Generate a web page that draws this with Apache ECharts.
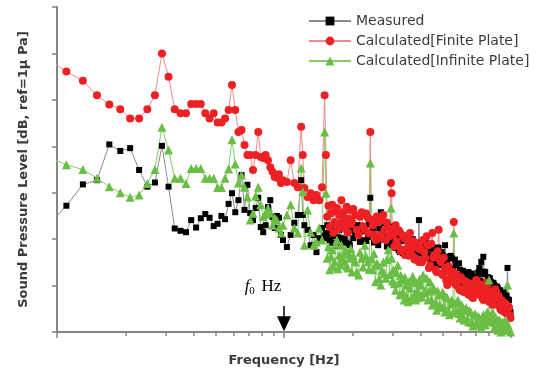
<!DOCTYPE html>
<html><head><meta charset="utf-8">
<script src="https://cdn.jsdelivr.net/npm/echarts@6/dist/echarts.min.js"></script>
<style>html,body{margin:0;padding:0;background:#fff}#c{width:541px;height:376px}</style>
</head><body><div id="c"></div>
<script>
const freq = [9, 11, 13, 15, 17, 19, 21, 23, 25, 27, 29, 31, 33, 35, 37, 39, 41, 43, 45, 47, 49, 51, 53, 55, 57, 59, 61, 63, 65, 67, 69, 71, 73, 75, 77, 79, 81, 83, 85, 87, 89, 91, 93, 95, 97, 99,
  103, 107, 111, 115, 119, 121, 123, 127, 131, 135, 139, 143, 147, 151, 153,
  155, 157, 159, 161, 163, 165, 167, 169, 171, 173,
  175, 177, 179, 181, 183, 185, 187, 189, 191, 193,
  195, 197, 199, 202, 206, 209, 213, 216, 220, 223,
  227, 230, 234, 237, 240, 243, 246, 249, 253, 256,
  260, 263, 267, 270, 274, 277, 281, 284, 288, 292,
  296, 298, 300, 303, 306, 310, 313, 317, 320, 324,
  327, 331, 334, 338, 341, 345, 348, 352, 355, 359,
  362, 366, 369, 373, 376, 380, 383, 387, 390, 393,
  396, 400, 405, 410, 415, 420, 425, 430, 435, 440,
  445, 450, 455, 460, 465, 470, 475, 480, 485, 490,
  495, 500, 506, 512, 518, 524, 530, 536, 542, 548,
  554, 560, 566, 572, 578, 584, 590, 596, 602, 608,
  614, 620, 627, 635, 642, 650, 657, 665, 672, 680,
  687, 695, 702, 710, 717, 725, 732, 740, 747, 755,
  762, 770, 777, 785, 792, 800, 807, 815, 822, 830,
  837, 845, 852, 860, 867, 875, 882, 890, 897, 905,
  912, 920, 927, 935, 942, 950, 957, 965, 972, 980,
  987, 995];

const measured = [22.6, 27.2, 31.8, 32.7, 40.4, 39.0, 39.6, 34.9, 31.3, 32.2, 40.1, 31.3, 22.3, 21.8, 21.5, 24.1, 22.5, 24.5, 25.4, 24.6, 22.8, 23.3, 25.0, 24.3, 27.6, 29.9, 25.8, 28.4, 33.8, 26.3, 31.7, 25.6, 24.1, 26.7, 28.9, 22.6, 21.5, 23.0, 26.9, 28.4, 24.8, 22.4, 25.0, 24.6, 20.9, 19.8,
  18.3, 20.9, 23.5, 25.2, 32.7, 25.2, 23.0, 22.0, 18.7, 20.9, 17.2, 20.2, 22.4, 21.3, 20.2,
  23.0, 21.2, 19.8, 22.6, 19.2, 20.6, 21.5, 23.4, 18.5, 20.4,
  22.0, 19.5, 20.2, 23.6, 22.4, 20.0, 19.2, 22.8, 21.5, 19.0,
  18.7, 21.8, 24.1, 20.2, 20.9, 22.9, 23.0, 19.4, 19.8, 21.7,
  22.4, 19.6, 20.5, 23.2, 28.9, 21.0, 22.0, 19.3, 24.1, 20.6,
  18.7, 22.3, 25.8, 19.9, 21.5, 23.4, 20.2, 18.4, 22.8, 20.0,
  18.7, 19.8, 22.6, 21.5, 18.9, 18.1, 20.8, 20.5, 17.6, 17.2,
  19.6, 19.8, 17.0, 17.7, 20.4, 20.2, 17.4, 16.6, 19.2, 18.7,
  16.8, 17.7, 20.0, 19.4, 17.2, 16.6, 19.0, 18.7, 16.9, 24.1,
  17.4, 17.7, 19.0, 17.7, 16.0, 19.4, 17.0, 16.6, 18.8, 18.1,
  15.4, 15.1, 17.8, 17.7, 14.6, 15.9, 18.2, 18.1, 15.6, 14.4,
  17.2, 16.6, 14.2, 18.7, 16.2, 15.1, 13.0, 13.4, 16.4, 15.9,
  13.6, 12.3, 15.6, 14.4, 12.2, 11.6, 14.8, 13.4, 11.4, 10.8,
  13.2, 12.3, 10.4, 9.5, 12.0, 12.9, 10.6, 10.1, 12.6, 11.6,
  9.6, 9.0, 11.8, 11.2, 12.8, 13.8, 11.0, 15.1, 12.4, 16.2,
  13.0, 12.9, 10.8, 10.1, 11.8, 9.0, 11.6, 10.8, 8.4, 8.6,
  10.6, 10.1, 8.0, 7.3, 9.8, 9.5, 7.6, 6.9, 9.0, 8.6,
  6.4, 6.5, 8.6, 8.0, 6.0, 5.8, 7.8, 13.8, 7.0, 6.9,
  5.0, 4.3];

const finitePlate = [58.9, 56.1, 54.1, 51.0, 49.0, 48.0, 46.0, 46.0, 48.0, 51.0, 60.0, 55.0, 48.0, 47.1, 47.1, 49.1, 49.1, 49.1, 47.1, 46.0, 47.1, 45.1, 45.1, 46.0, 47.8, 53.2, 47.8, 43.1, 43.5, 40.3, 38.1, 38.1, 34.9, 38.1, 43.1, 37.7, 37.5, 38.1, 37.0, 35.5, 34.5, 33.4, 33.2, 34.0, 32.1, 32.7,
  32.3, 37.0, 32.1, 31.2, 44.2, 38.1, 31.0, 29.1, 29.9, 28.4, 29.5, 28.4, 31.2, 51.0, 38.1,
  24.8, 27.2, 22.6, 25.6, 27.4, 21.4, 23.7, 26.0, 26.7, 22.2,
  25.2, 23.0, 28.4, 24.5, 25.8, 22.4, 23.0, 27.0, 21.5, 24.4,
  26.3, 23.2, 23.7, 26.5, 25.2, 22.0, 20.9, 24.8, 25.8, 22.8,
  22.0, 25.5, 24.6, 21.2, 43.1, 24.2, 23.0, 21.0, 19.8, 24.9,
  23.7, 20.2, 20.9, 24.0, 25.2, 21.8, 19.8, 23.6, 22.4, 20.6,
  32.1, 29.9, 21.8, 20.9, 18.4, 23.0, 19.6, 18.7, 21.9, 21.5,
  17.4, 17.7, 20.8, 20.2, 16.6, 17.7, 20.6, 19.4, 16.4, 21.3,
  18.0, 16.6, 19.6, 18.7, 15.6, 15.9, 19.2, 18.1, 15.4, 15.1,
  18.6, 17.7, 15.0, 19.8, 17.2, 15.9, 20.6, 18.7, 13.8, 14.4,
  19.0, 21.3, 16.0, 16.6, 13.4, 12.9, 17.4, 22.0, 15.8, 15.1,
  12.6, 12.3, 16.0, 13.8, 11.2, 10.1, 14.2, 12.9, 11.6, 10.8,
  13.0, 23.7, 11.4, 10.1, 12.4, 11.6, 9.4, 9.0, 11.8, 11.2,
  8.8, 8.6, 11.0, 10.1, 8.4, 8.0, 10.4, 9.5, 7.6, 7.3,
  9.8, 9.0, 11.2, 10.8, 8.2, 8.0, 10.2, 9.5, 7.4, 6.9,
  9.2, 8.6, 10.6, 10.1, 7.8, 6.5, 8.6, 8.0, 6.4, 5.8,
  7.6, 7.3, 9.2, 8.6, 6.6, 5.8, 7.8, 6.9, 5.0, 4.7,
  6.8, 6.5, 4.6, 4.3, 6.2, 5.8, 4.0, 3.7, 5.6, 5.2,
  3.6, 3.0];

const infinitePlate = [37.9, 36.0, 35.0, 33.1, 31.3, 30.0, 29.0, 29.5, 32.0, 35.0, 44.1, 39.2, 33.1, 33.1, 32.0, 35.2, 35.2, 35.2, 33.1, 33.1, 33.1, 31.1, 31.1, 33.1, 35.1, 41.4, 36.2, 32.1, 33.8, 31.2, 29.1, 24.1, 25.6, 29.3, 31.2, 27.4, 24.8, 25.4, 26.7, 25.6, 23.0, 24.6, 24.1, 22.4, 21.3, 23.0,
  25.2, 27.4, 22.4, 21.3, 35.3, 30.2, 18.7, 26.3, 21.5, 18.7, 19.4, 22.4, 19.8, 43.1, 29.9,
  15.9, 18.4, 13.4, 16.2, 17.7, 14.0, 15.1, 18.9, 19.8, 13.6,
  16.6, 14.5, 18.7, 16.0, 15.1, 17.2, 17.7, 14.2, 13.8, 16.8,
  15.9, 18.0, 12.9, 16.4, 15.1, 13.0, 12.3, 17.2, 15.9, 14.0,
  18.7, 16.3, 15.1, 13.5, 36.4, 15.8, 13.4, 16.9, 10.8, 14.8,
  14.4, 11.5, 10.1, 13.2, 15.1, 12.6, 11.6, 15.6, 17.7, 12.4,
  26.7, 15.9, 11.0, 13.4, 10.4, 9.0, 12.8, 14.4, 10.6, 8.0,
  12.2, 11.2, 8.6, 6.9, 11.8, 10.1, 7.6, 6.5, 10.8, 9.5,
  7.0, 7.3, 12.0, 11.2, 8.2, 6.9, 10.6, 9.0, 7.4, 8.0,
  11.4, 10.1, 7.6, 12.3, 8.4, 9.0, 11.6, 6.9, 8.8, 10.8,
  7.0, 5.8, 9.6, 9.0, 6.4, 4.7, 8.9, 8.0, 5.9, 5.2,
  8.0, 8.6, 5.6, 4.3, 7.6, 7.3, 4.4, 3.7, 6.0, 6.9,
  4.2, 21.3, 6.2, 4.7, 6.4, 6.9, 4.0, 3.0, 5.2, 5.8,
  3.4, 2.6, 4.8, 5.2, 2.8, 2.2, 4.6, 4.3, 2.0, 1.3,
  3.6, 3.9, 2.0, 1.5, 3.4, 3.0, 1.6, 0.9, 2.8, 3.7,
  1.8, 1.5, 3.2, 4.3, 2.4, 11.2, 3.0, 2.2, 3.8, 4.3,
  2.0, 0.9, 2.6, 3.0, 1.2, 0.4, 2.4, 2.6, 1.0, 0.0,
  1.8, 2.2, 0.8, 0.4, 2.0, 2.6, 1.0, 10.1, 1.4, 0.9,
  0.4, 0.0];

const seriesNames = ['Measured', 'Calculated[Finite Plate]', 'Calculated[Infinite Plate]'];
const xMajorTicks = [10, 100, 1000];
const xMinorTicks = [20, 30, 40, 50, 60, 70, 80, 90, 200, 300, 400, 500, 600, 700, 800, 900];
const xName = 'Frequency [Hz]';
const yName = 'Sound Pressure Level [dB, ref=1\u03bc Pa]';
const f0 = 100;
const arrowLevels = [5.6, 1.8];

const pairs = v => freq.map((f, i) => [f, v[i]]);
const axisGray = '#858585';
const titleFont = { fontFamily: 'DejaVu Sans', fontWeight: 'bold', fontSize: 13, color: '#3a3a3a' };

const chart = echarts.init(document.getElementById('c'), null, { renderer: 'canvas' });
chart.setOption({
  animation: false,
  grid: { left: 57, right: 30, top: 7, bottom: 44 },
  legend: {
    orient: 'vertical', left: 303, top: 9, itemWidth: 42, itemHeight: 11, itemGap: 6,
    textStyle: { fontFamily: 'DejaVu Sans', fontSize: 14, color: '#3a3a3a', lineHeight: 14 },
    data: seriesNames
  },
  xAxis: [{
    type: 'log', logBase: 10, min: 10, max: 1000, position: 'bottom',
    name: xName, nameLocation: 'middle', nameGap: 22, nameTextStyle: titleFont,
    axisLine: { lineStyle: { color: axisGray, width: 2 } },
    axisTick: { show: true, length: 6, customValues: xMajorTicks, lineStyle: { color: axisGray, width: 1.5 } },
    axisLabel: { show: false }, splitLine: { show: false }, minorTick: { show: false }
  }, {
    type: 'log', logBase: 10, min: 10, max: 1000, position: 'bottom', gridIndex: 0,
    axisLine: { show: false },
    axisTick: { show: true, length: 4, customValues: xMinorTicks, lineStyle: { color: axisGray, width: 1.5 } },
    axisLabel: { show: false }, splitLine: { show: false }
  }],
  yAxis: {
    type: 'value', min: 0, max: 70, interval: 10,
    name: yName, nameLocation: 'middle', nameGap: 27, nameTextStyle: titleFont,
    axisLine: { show: true, lineStyle: { color: axisGray, width: 2 } },
    axisTick: { show: true, length: 5, lineStyle: { color: axisGray, width: 1.5 } },
    axisLabel: { show: false }, splitLine: { show: false }
  },
  series: [{
    name: seriesNames[0], type: 'line', data: pairs(measured), showAllSymbol: true,
    symbol: 'rect', symbolSize: 6, itemStyle: { color: '#000' },
    lineStyle: { color: '#8a8a8a', width: 1 }, emphasis: { disabled: true }
  }, {
    name: seriesNames[1], type: 'line', data: pairs(finitePlate), showAllSymbol: true,
    symbol: 'circle', symbolSize: 8, itemStyle: { color: '#ed2024' },
    lineStyle: { color: '#f4898b', width: 1 }, emphasis: { disabled: true }
  }, {
    name: seriesNames[2], type: 'line', data: pairs(infinitePlate), showAllSymbol: true,
    symbol: 'triangle', symbolSize: 9, itemStyle: { color: '#6abe45' },
    lineStyle: { color: '#86cc6a', width: 1 }, emphasis: { disabled: true },
    markLine: {
      silent: true, animation: false, symbol: ['none', 'triangle'], symbolSize: [14, 15],
      lineStyle: { color: '#000', width: 1.5, type: 'solid' },
      label: {
        show: true, position: 'start', distance: 9, offset: [-21, 0],
        formatter: '{i|f}{s|0}  {n|Hz}',
        rich: {
          i: { fontFamily: 'Liberation Serif', fontStyle: 'italic', fontSize: 17, color: '#000', lineHeight: 20 },
          s: { fontFamily: 'Liberation Serif', fontSize: 11, color: '#000', lineHeight: 20, verticalAlign: 'bottom' },
          n: { fontFamily: 'Liberation Serif', fontSize: 17, color: '#000', lineHeight: 20 }
        }
      },
      data: [[{ coord: [f0, arrowLevels[0]] }, { coord: [f0, arrowLevels[1]] }]]
    }
  }]
});
</script></body></html>
